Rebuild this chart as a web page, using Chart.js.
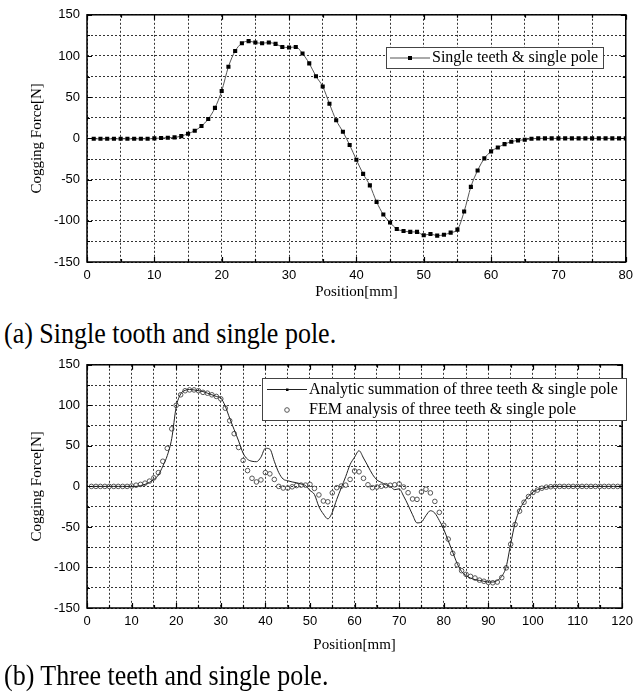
<!DOCTYPE html>
<html>
<head>
<meta charset="utf-8">
<script src="https://cdn.jsdelivr.net/npm/chart.js@4.4.1/dist/chart.umd.min.js"></script>
<style>
  body { margin: 0; background: #fff; width: 639px; height: 699px; position: relative; overflow: hidden; }
  canvas { position: absolute; left: 0; }
  #c1 { top: 0; }
  #c2 { top: 350px; }
  .cap { position: absolute; left: 4px; font-family: "Liberation Serif", "Times New Roman", serif; font-size: 26px; line-height: 28px; color: #000; white-space: nowrap; transform: scaleY(1.12); transform-origin: 0 50%; }
  #capA { top: 320px; }
  #capB { top: 662px; }
</style>
</head>
<body>
<canvas id="c1" width="639" height="302"></canvas>
<div class="cap" id="capA">(a) Single tooth and single pole.</div>
<canvas id="c2" width="639" height="310"></canvas>
<div class="cap" id="capB">(b) Three teeth and single pole.</div>
<script>
// (a) single tooth, one point per mm
const posA = [];
for (let i = 1; i <= 80; i++) posA.push(i);
const forceA = [
  -0.5, -0.5, -0.5, -0.5, -0.5, -0.5, -0.5, -0.5, -0.5, 0,
  0.4, 0.8, 1.2, 2.8, 5.7, 9.3, 15, 23.5, 37, 57.5,
  87, 106, 115.5, 118, 116.3, 115.5, 116.3, 114.7, 111, 110.3,
  111, 103, 91, 75.4, 63, 42, 22, 8, -8, -26,
  -43, -57, -77, -92.4, -102, -110, -112.3, -113.5, -113.5, -117.5,
  -116, -118, -117, -114.3, -110.7, -88.8, -58.8, -39, -24.3, -15.8,
  -11, -7, -4, -2.4, -1.6, -0.4, 0, 0, 0, 0,
  0, 0, 0, 0, 0, 0, 0, 0, 0, 0
];

// (b) three teeth
const posB = [];
for (let i = 1; i <= 120; i++) posB.push(i);
const analyticB = [
  0, 0, 0, 0, 0, 0, 0, 0, 0, 0,
  0, 1, 2.5, 5, 8.5, 14, 25, 38, 59, 98,
  114, 118.5, 119.5, 119, 118, 117, 115, 113, 111, 109,
  99, 84, 70, 56, 41, 33.5, 31, 30.5, 36, 47,
  46, 31, 17, 9, 7, 5.5, 4.5, 3, 1, -5,
  -10, -25, -34, -40, -32, -16, -2, 12, 27, 36,
  44, 35, 25, 15, 8, 5, 2, 0, -4, -3,
  -12, -23, -35, -45, -44, -36, -30, -33, -42, -53,
  -67, -81, -95, -105, -110, -113, -115, -116, -117, -118,
  -118, -116, -111, -99, -71, -45, -29, -19, -12, -7,
  -4, -2.5, -1, -0.4, 0, 0, 0, 0, 0, 0,
  0, 0, 0, 0, 0, 0, 0, 0, 0, 0
];
const femB = [
  0, 0, 0, 0, 0, 0, 0, 0, 0, 0.5,
  1.5, 2.5, 4, 6.5, 10.5, 17, 31, 47, 71, 100,
  113, 118, 119, 119, 118, 116, 115, 113, 111, 108,
  96.5, 81, 65, 48, 32, 19.5, 10, 5.5, 8, 17,
  15.5, 8.6, 0, -2, -2, -0.5, 1, 1.6, 1.6, 2.5,
  -2.5, -10.5, -18, -19, -8, -1.6, 0.4, 1.6, 8.6, 19,
  18, 10, 2, -1.6, -0.8, 0.2, 1, 1.4, 2, 3,
  -0.8, -7.8, -15.5, -16, -6.8, -3.5, -8, -18.5, -32, -48,
  -65, -82.5, -96.7, -104, -108.5, -111, -113, -115.6, -117, -118.4,
  -118.9, -118, -112.5, -100.5, -71.3, -47, -30.5, -19.5, -12.5, -7.5,
  -4.5, -2.2, -0.9, -0.4, 0, 0, 0, 0, 0, 0,
  0, 0, 0, 0, 0, 0, 0, 0, 0, 0
];

Chart.defaults.font.family = '"Liberation Sans", Arial, sans-serif';
Chart.defaults.color = '#000';

const serif = '"Liberation Serif", "Times New Roman", serif';

// box with inward ticks, like Origin plots
const framePlugin = {
  id: 'frame',
  afterDatasetsDraw(chart) {
    const { ctx, chartArea: a, scales: { x, y } } = chart;
    ctx.save();
    ctx.strokeStyle = '#000';
    ctx.lineWidth = 1.2;
    ctx.beginPath();
    x.ticks.forEach(t => {
      const px = Math.round(x.getPixelForValue(t.value)) + 0.5;
      const len = t.value % 10 === 0 ? 5 : 3;
      ctx.moveTo(px, a.bottom); ctx.lineTo(px, a.bottom - len);
      ctx.moveTo(px, a.top); ctx.lineTo(px, a.top + len);
    });
    y.ticks.forEach(t => {
      const py = Math.round(y.getPixelForValue(t.value)) + 0.5;
      const len = t.value % 50 === 0 ? 5 : 3;
      ctx.moveTo(a.left, py); ctx.lineTo(a.left + len, py);
      ctx.moveTo(a.right, py); ctx.lineTo(a.right - len, py);
    });
    ctx.stroke();
    ctx.lineWidth = 1.5;
    ctx.strokeRect(a.left, a.top, a.right - a.left, a.bottom - a.top);
    ctx.restore();
  }
};

const boxLegend = {
  id: 'boxLegend',
  afterDraw(chart, args, opts) {
    if (!opts.rows) return;
    const ctx = chart.ctx;
    ctx.save();
    ctx.fillStyle = '#fff';
    ctx.fillRect(opts.left, opts.top, opts.width, opts.height);
    ctx.strokeStyle = '#444';
    ctx.lineWidth = 1;
    ctx.strokeRect(opts.left + 0.5, opts.top + 0.5, opts.width, opts.height);
    ctx.font = opts.fontSize + 'px ' + serif;
    ctx.textBaseline = 'middle';
    chart.data.datasets.forEach((ds, i) => {
      const row = opts.rows[i];
      const x0 = opts.left + opts.sampleFrom, x1 = opts.left + opts.sampleTo;
      const xm = (x0 + x1) / 2;
      if (row.line) {
        ctx.strokeStyle = ds.borderColor;
        ctx.lineWidth = 1;
        ctx.beginPath(); ctx.moveTo(x0, row.y); ctx.lineTo(x1, row.y); ctx.stroke();
      }
      if (row.marker === 'rect') {
        ctx.fillStyle = '#000';
        ctx.fillRect(xm - 2, row.y - 2, 4, 4);
      } else if (row.marker === 'dot') {
        ctx.fillStyle = '#000';
        ctx.fillRect(xm - 1, row.y - 1, 2.5, 2.5);
      } else if (row.marker === 'circle') {
        ctx.strokeStyle = ds.pointBorderColor;
        ctx.beginPath(); ctx.arc(xm, row.y, 2.3, 0, Math.PI * 2); ctx.stroke();
      }
      ctx.fillStyle = '#000';
      ctx.fillText(ds.label, opts.left + opts.textAt, row.ty);
    });
    ctx.restore();
  }
};

function axes(xMax, xHeight, titlePad) {
  return {
    x: {
      type: 'linear', min: 0, max: xMax,
      afterFit: s => { s.height = xHeight; },
      border: { display: false, dash: [2, 2] },
      grid: { color: '#333', lineWidth: 1, drawTicks: false },
      ticks: {
        stepSize: 5, autoSkip: false, maxRotation: 0, padding: 6,
        font: { size: 13 },
        callback: v => (v % 10 === 0 ? v : '')
      },
      title: { display: true, text: 'Position[mm]', font: { family: serif, size: 15 }, padding: { top: 0, bottom: titlePad } }
    },
    y: {
      min: -150, max: 150,
      afterFit: s => { s.width = 87; },
      border: { display: false, dash: [2, 2] },
      grid: { color: '#333', lineWidth: 1, drawTicks: false },
      ticks: {
        stepSize: 25, autoSkip: false, padding: 7,
        font: { size: 13 },
        callback: v => (v % 50 === 0 ? v : '')
      },
      title: { display: true, text: 'Cogging Force[N]', font: { family: serif, size: 15 }, padding: { top: 28, bottom: 0 } }
    }
  };
}

new Chart(document.getElementById('c1'), {
  type: 'line',
  data: {
    datasets: [{
      label: 'Single teeth & single pole',
      data: posA.map((x, i) => ({ x: x, y: forceA[i] })),
      borderColor: '#555',
      borderWidth: 1,
      pointStyle: 'rect',
      pointRadius: 2.9,
      pointBackgroundColor: '#000',
      pointBorderColor: '#000',
      pointBorderWidth: 0,
      cubicInterpolationMode: 'monotone'
    }]
  },
  options: {
    responsive: false,
    animation: false,
    layout: { padding: { left: 0, top: 14, right: 7, bottom: 0 } },
    plugins: {
      legend: { display: false },
      tooltip: { enabled: false },
      boxLegend: {
        left: 386, top: 47, width: 217, height: 21, fontSize: 16,
        sampleFrom: 4, sampleTo: 44, textAt: 46,
        rows: [{ y: 58, ty: 58, line: true, marker: 'rect' }]
      }
    },
    scales: axes(80, 40, 1)
  },
  plugins: [framePlugin, boxLegend]
});

new Chart(document.getElementById('c2'), {
  type: 'line',
  data: {
    datasets: [{
      label: 'Analytic summation of three teeth & single pole',
      data: posB.map((x, i) => ({ x: x, y: analyticB[i] })),
      borderColor: '#222',
      borderWidth: 1,
      pointRadius: 0,
      cubicInterpolationMode: 'monotone'
    }, {
      label: 'FEM analysis of three teeth & single pole',
      data: posB.map((x, i) => ({ x: x, y: femB[i] })),
      showLine: false,
      pointStyle: 'circle',
      pointRadius: 2.3,
      pointBackgroundColor: 'rgba(255,255,255,0)',
      pointBorderColor: '#555',
      pointBorderWidth: 1
    }]
  },
  options: {
    responsive: false,
    animation: false,
    layout: { padding: { left: 0, top: 13, right: 7, bottom: 0 } },
    plugins: {
      legend: { display: false },
      tooltip: { enabled: false },
      boxLegend: {
        left: 262, top: 28, width: 364, height: 42, fontSize: 16,
        sampleFrom: 5, sampleTo: 45, textAt: 47,
        rows: [
          { y: 39.5, ty: 40, line: true, marker: 'dot' },
          { y: 60, ty: 59.5, line: false, marker: 'circle' }
        ]
      }
    },
    scales: axes(120, 52, 6)
  },
  plugins: [framePlugin, boxLegend]
});
</script>
</body>
</html>
